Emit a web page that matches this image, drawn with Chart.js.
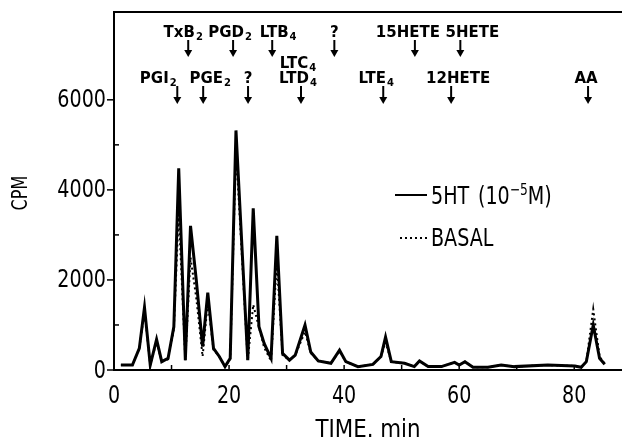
<!DOCTYPE html>
<html>
<head>
<meta charset="utf-8">
<script src="https://cdn.jsdelivr.net/npm/chart.js@4.4.1/dist/chart.umd.min.js"></script>
<style>
  html, body { margin: 0; padding: 0; background: #fff; }
  #wrap { width: 622px; height: 438px; }
</style>
</head>
<body>
<div id="wrap"><canvas id="chart" width="622" height="438"></canvas></div>
<script>
// retention time (min) and counts
const times  = [1.2, 3.2, 4.4, 5.3, 6.3, 7.4, 8.3, 9.4, 10.4, 11.25, 12.4, 13.3, 14.3, 15.4, 16.3, 17.3, 18.3, 19.3, 20.2, 21.2,
                23.25, 24.2, 25.2, 26.1, 27.3, 28.3, 29.3, 30.5, 31.5, 33.2, 34.2, 35.5, 37.7, 39.2, 40.3, 42.4, 45.0, 46.4, 47.2, 48.2,
                50.5, 52.2, 53.1, 54.6, 56.9, 59.2, 60.0, 61.0, 62.4, 65.0, 67.3, 69.6, 75.4, 80.1, 81.2, 82.1, 83.3, 84.4, 85.3];
const fiveHT = [110, 110, 480, 1390, 110, 680, 185, 260, 960, 4480, 220, 3200, 2000, 520, 1720, 480, 300, 75, 260, 5320,
                220, 3590, 960, 590, 260, 2980, 370, 220, 330, 1000, 400, 200, 150, 440, 185, 75, 125, 300, 730, 185,
                150, 75, 200, 75, 75, 170, 110, 185, 60, 60, 110, 75, 110, 90, 60, 185, 1000, 260, 130];
const basal  = [110, 110, 480, 1300, 110, 620, 185, 240, 900, 3500, 220, 2500, 1600, 300, 1500, 450, 300, 75, 240, 4900,
                200, 1450, 950, 500, 200, 2400, 330, 220, 330, 850, 380, 200, 150, 420, 185, 75, 125, 300, 620, 185,
                150, 75, 200, 75, 75, 170, 110, 185, 60, 60, 110, 75, 110, 90, 60, 185, 1350, 300, 130];

const xTicks = [0, 20, 40, 60, 80];
const xMinor = [10, 20, 30, 40, 50, 60, 70, 80];
const yTicks = [0, 2000, 4000, 6000];
const yMinor = [1000, 3000, 5000];

// standards marked above the trace
const markerNames = ['TxB', 'PGD', 'LTB', '?', '15HETE', '5HETE', 'PGI', 'PGE', '?', 'LTC', 'LTD', 'LTE', '12HETE', 'AA'];
const markerSubs  = ['2', '2', '4', '', '', '', '2', '2', '', '4', '4', '4', '', ''];
const markerTimes = [12.9, 20.7, 27.5, 38.3, 52.3, 60.2, 11.0, 15.5, 23.3, 32.5, 32.5, 46.8, 58.6, 82.4];
const markerRows  = [1, 1, 1, 1, 1, 1, 2, 2, 2, 0, 2, 2, 2, 2];   // 0 = label only
const labelShift  = [-5, -3, 6, 0, -7, 12, -19, 7, 0, -3, -3, -7, 7, -2]; // px

const NARROW = '"Liberation Sans Narrow", "DejaVu Sans Condensed", "Arial Narrow", sans-serif';
const BLOCK = '"DejaVu Sans", sans-serif';

// condensed text, like the plotter lettering of the original
function narrow(ctx, str, x, y, align, sx) {
  ctx.save();
  ctx.translate(x, y);
  ctx.scale(sx || 0.85, 1);
  ctx.textAlign = align;
  ctx.fillText(str, 0, 0);
  const w = ctx.measureText(str).width * (sx || 0.85);
  ctx.restore();
  return w;
}

const decor = {
  id: 'decor',
  afterDraw(chart) {
    const { ctx, chartArea: a, scales: { x, y } } = chart;
    ctx.save();
    ctx.strokeStyle = '#000';
    ctx.fillStyle = '#000';

    // frame (right side is cut off in the original)
    ctx.lineWidth = 2;
    ctx.beginPath();
    ctx.moveTo(chart.width, a.top); ctx.lineTo(a.left, a.top);
    ctx.lineTo(a.left, a.bottom); ctx.lineTo(chart.width, a.bottom);
    ctx.stroke();

    // y ticks: major outside, minor inside
    ctx.lineWidth = 1.5;
    yTicks.forEach(v => {
      const py = y.getPixelForValue(v);
      ctx.beginPath(); ctx.moveTo(a.left - 7, py); ctx.lineTo(a.left, py); ctx.stroke();
    });
    yMinor.forEach(v => {
      const py = y.getPixelForValue(v);
      ctx.beginPath(); ctx.moveTo(a.left, py); ctx.lineTo(a.left + 5, py); ctx.stroke();
    });
    xMinor.forEach(v => {
      const px = x.getPixelForValue(v);
      ctx.beginPath(); ctx.moveTo(px, a.bottom); ctx.lineTo(px, a.bottom - 5); ctx.stroke();
    });

    ctx.font = '25px ' + NARROW;
    ctx.textBaseline = 'middle';
    yTicks.forEach(v => narrow(ctx, String(v), a.left - 8, y.getPixelForValue(v) + 1, 'right'));
    ctx.textBaseline = 'alphabetic';
    xTicks.forEach(v => narrow(ctx, String(v), x.getPixelForValue(v), 403, 'center'));

    // axis titles
    ctx.font = '25px ' + NARROW;
    narrow(ctx, 'TIME. min', (a.left + chart.width) / 2, 437, 'center', 0.95);
    ctx.save();
    ctx.translate(27, 193);
    ctx.rotate(-Math.PI / 2);
    ctx.font = '21px ' + NARROW;
    narrow(ctx, 'CPM', 0, 0, 'center', 0.85);
    ctx.restore();

    // legend
    ctx.lineWidth = 2;
    ctx.beginPath(); ctx.moveTo(395, 195); ctx.lineTo(427, 195); ctx.stroke();
    ctx.setLineDash([2, 3]);
    ctx.beginPath(); ctx.moveTo(400, 238); ctx.lineTo(427, 238); ctx.stroke();
    ctx.setLineDash([]);
    ctx.font = '25px ' + NARROW;
    narrow(ctx, '5HT', 431, 204, 'left');
    let lx = 478;
    lx += narrow(ctx, '(10', lx, 204, 'left');
    ctx.font = '16px ' + NARROW;
    lx += narrow(ctx, '\u22125', lx, 195, 'left');
    ctx.font = '25px ' + NARROW;
    narrow(ctx, 'M)', lx, 204, 'left');
    narrow(ctx, 'BASAL', 431, 246, 'left');

    // standards
    const baseY = { 1: 37, 0: 68, 2: 83 };
    ctx.textAlign = 'left';
    markerNames.forEach((name, i) => {
      const px = x.getPixelForValue(markerTimes[i]);
      const row = markerRows[i];
      ctx.font = 'bold 15px ' + BLOCK;
      const w1 = ctx.measureText(name).width;
      ctx.font = 'bold 10px ' + BLOCK;
      const w2 = markerSubs[i] ? ctx.measureText(markerSubs[i]).width + 1 : 0;
      const sx = px + labelShift[i] - (w1 + w2) / 2;
      ctx.font = 'bold 15px ' + BLOCK;
      ctx.fillText(name, sx, baseY[row]);
      if (markerSubs[i]) {
        ctx.font = 'bold 10px ' + BLOCK;
        ctx.fillText(markerSubs[i], sx + w1 + 1, baseY[row] + 3);
      }
      if (row === 0) return;
      const top = row === 1 ? 40 : 86;
      const bot = row === 1 ? 57 : 104;
      ctx.lineWidth = 2;
      ctx.beginPath(); ctx.moveTo(px, top); ctx.lineTo(px, bot - 5); ctx.stroke();
      ctx.beginPath();
      ctx.moveTo(px - 4, bot - 7); ctx.lineTo(px + 4, bot - 7); ctx.lineTo(px, bot);
      ctx.closePath(); ctx.fill();
    });
    ctx.restore();
  }
};

const bg = {
  id: 'bg',
  beforeDraw(chart) {
    const c = chart.ctx;
    c.save(); c.fillStyle = '#fff'; c.fillRect(0, 0, chart.width, chart.height); c.restore();
  }
};

new Chart(document.getElementById('chart'), {
  type: 'line',
  data: {
    datasets: [
      { label: '5HT (10-5M)', data: times.map((t, i) => ({ x: t, y: fiveHT[i] })),
        borderColor: '#000', borderWidth: 3, pointRadius: 0, tension: 0 },
      { label: 'BASAL', data: times.map((t, i) => ({ x: t, y: basal[i] })),
        borderColor: '#000', borderWidth: 2, borderDash: [2, 3], pointRadius: 0, tension: 0 }
    ]
  },
  options: {
    responsive: false,
    animation: false,
    layout: { padding: { left: 114, right: 0, top: 12, bottom: 68 } },
    plugins: { legend: { display: false }, tooltip: { enabled: false } },
    scales: {
      x: { type: 'linear', min: 0, max: 88.3, display: false },
      y: { min: 0, max: 7950, display: false }
    }
  },
  plugins: [bg, decor]
});
</script>
</body>
</html>
